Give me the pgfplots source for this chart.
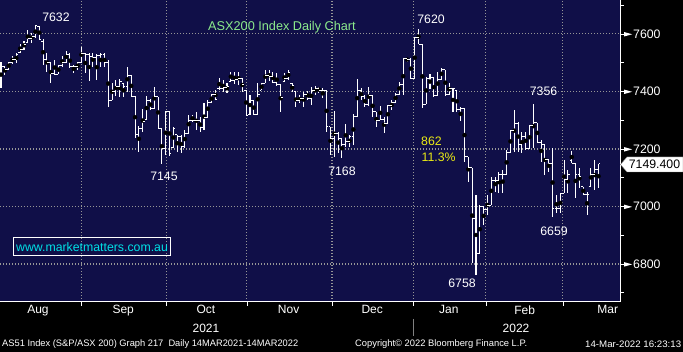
\documentclass[border=0pt]{standalone}
\usepackage{fontspec}
\setmainfont{Liberation Sans}
\usepackage{pgfplots}
\usepackage{pgfplotstable}
\pgfplotsset{compat=1.18}
\definecolor{bbnavy}{RGB}{16,15,72}
\definecolor{gridgray}{RGB}{150,150,150}
\definecolor{ttlgreen}{RGB}{140,235,140}
\definecolor{annyellow}{RGB}{235,235,20}
\definecolor{wmcyan}{RGB}{0,225,230}
\pgfdeclareplotmark{otick}{\pgfpathmoveto{\pgfqpoint{-\pgfplotmarksize}{0pt}}\pgfpathlineto{\pgfqpoint{0pt}{0pt}}\pgfusepathqstroke}
\pgfdeclareplotmark{ctick}{\pgfpathmoveto{\pgfqpoint{0pt}{0pt}}\pgfpathlineto{\pgfqpoint{\pgfplotmarksize}{0pt}}\pgfusepathqstroke}
\newcommand\fs{\fontsize{12.3}{14}\selectfont}
\pgfplotstableread{
i o h l c
0 7430 7504 7413 7486
1 7486 7489 7457 7475
2 7475 7504 7475 7500
3 7500 7523 7496 7510
4 7510 7535 7498 7530
5 7535 7565 7533 7545
6 7545 7577 7544 7562
7 7570 7614 7568 7585
8 7585 7605 7570 7590
9 7590 7631 7585 7628
10 7625 7628 7581 7581
11 7575 7581 7492 7510
12 7510 7533 7469 7500
13 7500 7504 7431 7463
14 7463 7510 7457 7460
15 7460 7492 7460 7490
16 7490 7523 7486 7500
17 7500 7542 7498 7527
18 7527 7533 7481 7486
19 7486 7492 7465 7486
20 7486 7504 7475 7500
21 7500 7556 7500 7533
22 7533 7535 7463 7530
23 7530 7533 7437 7521
24 7521 7535 7486 7519
25 7519 7529 7440 7525
26 7525 7533 7486 7530
27 7530 7533 7486 7500
28 7500 7510 7345 7367
29 7370 7428 7370 7400
30 7400 7440 7384 7417
31 7417 7442 7382 7434
32 7428 7428 7380 7417
33 7417 7486 7399 7457
34 7457 7457 7382 7382
35 7382 7384 7237 7249
36 7249 7280 7191 7272
37 7272 7338 7260 7295
38 7301 7384 7301 7370
39 7370 7373 7336 7341
40 7341 7414 7338 7382
41 7382 7382 7272 7272
42 7272 7272 7147 7200
43 7202 7333 7180 7330
44 7330 7333 7175 7185
45 7205 7278 7202 7270
46 7250 7250 7190 7245
47 7245 7250 7185 7210
48 7210 7266 7203 7255
49 7255 7318 7255 7300
50 7300 7318 7295 7300
51 7300 7330 7266 7300
52 7300 7310 7260 7275
53 7275 7359 7266 7310
54 7310 7370 7310 7361
55 7361 7391 7359 7388
56 7388 7405 7370 7373
57 7410 7446 7405 7411
58 7411 7440 7399 7414
59 7414 7428 7394 7417
60 7434 7469 7434 7437
61 7437 7469 7426 7440
62 7440 7469 7423 7446
63 7446 7446 7399 7423
64 7405 7405 7318 7318
65 7320 7388 7318 7370
66 7370 7370 7318 7320
67 7320 7428 7318 7388
68 7405 7428 7405 7426
69 7428 7475 7428 7457
70 7457 7475 7438 7452
71 7452 7466 7428 7431
72 7431 7463 7419 7425
73 7423 7423 7330 7380
74 7434 7463 7434 7446
75 7446 7475 7440 7466
76 7428 7428 7399 7419
77 7399 7399 7345 7370
78 7370 7388 7359 7376
79 7376 7399 7345 7390
80 7390 7403 7370 7375
81 7375 7417 7353 7405
82 7405 7419 7388 7411
83 7411 7417 7396 7405
84 7405 7411 7376 7405
85 7405 7405 7260 7278
86 7278 7278 7179 7237
87 7237 7333 7173 7254
88 7254 7260 7185 7237
89 7237 7237 7168 7214
90 7214 7287 7208 7225
91 7225 7249 7208 7243
92 7243 7322 7214 7312
93 7312 7442 7312 7405
94 7405 7411 7370 7382
95 7382 7388 7345 7353
96 7353 7414 7350 7385
97 7385 7388 7312 7330
98 7330 7330 7278 7300
99 7300 7350 7301 7303
100 7303 7312 7257 7290
101 7290 7353 7289 7350
102 7350 7370 7336 7360
103 7360 7396 7359 7390
104 7390 7434 7388 7423
105 7423 7518 7388 7515
106 7515 7518 7504 7510
107 7510 7515 7444 7444
108 7444 7591 7444 7587
109 7587 7617 7564 7564
110 7564 7564 7341 7355
111 7355 7452 7355 7446
112 7446 7460 7409 7450
113 7448 7448 7382 7386
114 7386 7467 7388 7440
115 7440 7483 7440 7475
116 7475 7475 7386 7390
117 7390 7429 7388 7410
118 7410 7411 7330 7409
119 7402 7402 7330 7336
120 7336 7347 7297 7341
121 7341 7341 7156 7173
122 7173 7173 7086 7135
123 7135 7135 6802 6959
124 6959 7040 6762 6837
125 6837 7005 6837 6999
126 6999 6999 6936 6988
127 6988 7040 6970 7005
128 7005 7104 7005 7090
129 7090 7104 7052 7089
130 7089 7121 7048 7110
131 7110 7127 7046 7110
132 7110 7197 7110 7187
133 7187 7266 7187 7264
134 7264 7336 7191 7289
135 7289 7295 7191 7217
136 7217 7260 7187 7243
137 7243 7260 7197 7202
138 7202 7283 7199 7281
139 7281 7357 7202 7292
140 7292 7292 7220 7222
141 7222 7231 7156 7214
142 7214 7214 7110 7162
143 7162 7162 7121 7150
144 7150 7202 6965 6994
145 6994 7040 6976 6994
146 6994 7046 6979 7046
147 7046 7162 7046 7095
148 7095 7127 7048 7110
149 7160 7194 7150 7150
150 7150 7150 7028 7110
151 7110 7133 7063 7105
152 7069 7069 7040 7040
153 7040 7052 6971 7040
154 7069 7133 7069 7113
155 7113 7162 7057 7129
156 7129 7148 7063 7149
}\ohlc
\begin{document}
\begin{tikzpicture}
\fill[black] (0pt,0pt) rectangle (683pt,352pt);
\begin{axis}[
  at={(0pt,50pt)}, anchor=south west,
  width=620pt, height=302pt, scale only axis,
  axis background/.style={fill=bbnavy},
  xmin=-0.26, xmax=161.6, ymin=6668, ymax=7718,
  axis x line*=bottom, axis y line*=right,
  axis line style={white, line width=1pt},
  xtick={20.9,43.1,64.2,86.4,107.6,126.6,146.7},
  xticklabels={},
  extra x ticks={9.66,31.9,53.5,75.1,96.9,116.9,136.7,158.4},
  extra x tick labels={Aug,Sep,Oct,Nov,Dec,Jan,Feb,Mar},
  extra x tick style={grid=none, major tick length=0pt},
  ytick={6800,7000,...,7600},
  minor ytick={6700,6900,...,7700},
  grid=major,
  major grid style={gridgray, line width=1.1pt, dash pattern=on 1.1pt off 1.9pt},
  tick style={white, line width=0.8pt},
  major tick length=4pt, minor tick length=4pt,
  tick align=outside,
  xticklabel style={font=\fontsize{12}{14}\selectfont, text=white},
  yticklabel style={font=\fs, text=white, anchor=west, inner xsep=0pt},
  yticklabel={\tikz[baseline=-0.6ex]\fill[white](0pt,2.2pt)--(8pt,0pt)--(0pt,-2.2pt)--cycle;\hspace{1pt}\pgfmathprintnumber[assume math mode=true,1000 sep={},fixed,precision=0]{\tick}},
]
\addplot[only marks, mark=none, error bars/.cd, y dir=both, y explicit, error mark=none,
  error bar style={white, line width=1.05pt}]
  table[x=i, y expr={(\thisrow{h}+\thisrow{l})/2}, y error expr={(\thisrow{h}-\thisrow{l})/2}] {\ohlc};
\addplot[only marks, mark=otick, mark size=1.9pt, mark options={white, line width=1pt}] table[x=i, y=o] {\ohlc};
\addplot[only marks, mark=ctick, mark size=1.9pt, mark options={white, line width=1pt}] table[x=i, y=c] {\ohlc};
\end{axis}
% annotations
\node[text=ttlgreen, font=\fontsize{12.7}{14}\selectfont] at (282pt,325pt) {ASX200 Index Daily Chart};
\node[text=white, font=\fs] at (56pt,335pt) {7632};
\node[text=white, font=\fs] at (164pt,176pt) {7145};
\node[text=white, font=\fs] at (342pt,181pt) {7168};
\node[text=white, font=\fs] at (431pt,333pt) {7620};
\node[text=white, font=\fs] at (543.5pt,260.5pt) {7356};
\node[text=white, font=\fs] at (462pt,68.5pt) {6758};
\node[text=white, font=\fs] at (554pt,121pt) {6659};
\node[text=annyellow, font=\fs, anchor=west, inner sep=0pt] at (421pt,211pt) {862};
\node[text=annyellow, font=\fs, anchor=west, inner sep=0pt] at (421.5pt,195pt) {11.3\%};
\node[draw=white, line width=1pt, text=wmcyan, font=\fs, inner xsep=2.5pt, inner ysep=3.5pt, text height=10.5pt, text depth=1pt] at (92pt,105.5pt) {www.marketmatters.com.au};
% price box
\fill[white, draw=gray, line width=0.4pt] (620.5pt,187.5pt) -- (627pt,195pt) -- (683pt,195pt) -- (683pt,180pt) -- (627pt,180pt) -- cycle;
\node[text=black, font=\fs] at (654.5pt,187.5pt) {7149.400};
% years and separator
\node[text=white, font=\fontsize{12}{14}\selectfont] at (206pt,24pt) {2021};
\node[text=white, font=\fontsize{12}{14}\selectfont] at (516pt,24pt) {2022};
\draw[gray, line width=0.8pt] (413pt,33pt) -- (413pt,16pt);
% footer
\node[text=white, font=\fontsize{9.4}{10}\selectfont, anchor=west, inner sep=0pt] at (2pt,7.5pt) {\resizebox{296pt}{\height}{AS51 Index (S\&P/ASX 200) Graph 217\ \ Daily 14MAR2021-14MAR2022}};
\node[text=white, font=\fontsize{9.4}{10}\selectfont, anchor=west, inner sep=0pt] at (355pt,7.5pt) {\resizebox{172pt}{\height}{Copyright© 2022 Bloomberg Finance L.P.}};
\node[text=white, font=\fontsize{9.4}{10}\selectfont, anchor=west, inner sep=0pt] at (585pt,7.5pt) {\resizebox{96pt}{\height}{14-Mar-2022 16:23:13}};
\pgfresetboundingbox
\useasboundingbox (0pt,0pt) rectangle (683pt,352pt);
\end{tikzpicture}
\end{document}
